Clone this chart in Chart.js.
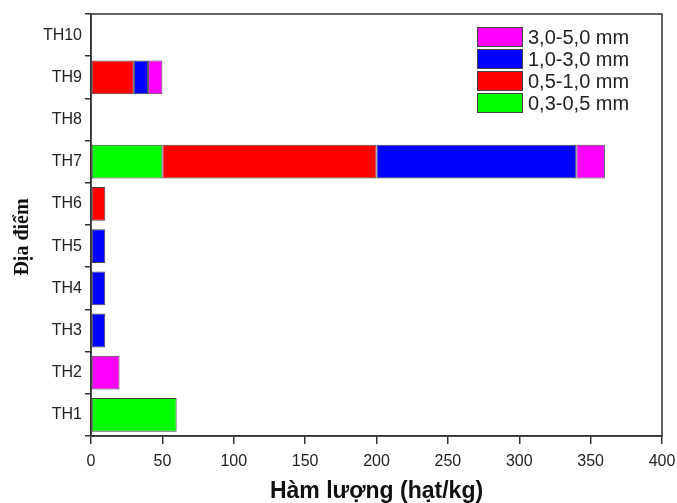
<!DOCTYPE html>
<html>
<head>
<meta charset="utf-8">
<script src="https://cdn.jsdelivr.net/npm/chart.js@4"></script>
<style>
  html, body { margin: 0; padding: 0; background: #fff; }
  #wrap { width: 677px; height: 503px; }
</style>
</head>
<body>
<div id="wrap"><canvas id="chart"></canvas></div>
<script>
// Data
const categories = ["TH1", "TH2", "TH3", "TH4", "TH5", "TH6", "TH7", "TH8", "TH9", "TH10"];
const seriesNames = ["0,3-0,5 mm", "0,5-1,0 mm", "1,0-3,0 mm", "3,0-5,0 mm"];
const size03to05 = [60, null, null, null, null, null, 50, null, null, null];
const size05to10 = [null, null, null, null, null, 10, 150, null, 30, null];
const size10to30 = [null, null, 10, 10, 10, null, 140, null, 10, null];
const size30to50 = [null, 20, null, null, null, null, 20, null, 10, null];
const xTicks = [0, 50, 100, 150, 200, 250, 300, 350, 400];
const yTitle = "Địa điểm";

const colors = ["#00FF00", "#FF0000", "#0000FF", "#FF00FF"];
const axisColor = "#333333";

Chart.defaults.font.family = "'Liberation Sans', Arial, sans-serif";
Chart.defaults.color = "#222222";

// frame around the plot, legend inside top-right, rotated y title
const framePlugin = {
    id: "frame",
    afterDraw(chart) {
        const { ctx, chartArea } = chart;
        ctx.save();
        ctx.strokeStyle = axisColor;
        ctx.lineWidth = 1.5;
        ctx.strokeRect(chartArea.left, chartArea.top, chartArea.right - chartArea.left, chartArea.bottom - chartArea.top);

        const sets = chart.data.datasets.slice().reverse();
        ctx.font = "20px 'Liberation Sans', Arial, sans-serif";
        ctx.textBaseline = "middle";
        ctx.textAlign = "left";
        sets.forEach((ds, i) => {
            const y = 27 + i * 22;
            ctx.fillStyle = ds.backgroundColor;
            ctx.fillRect(477, y, 46, 20);
            ctx.strokeStyle = "#444";
            ctx.lineWidth = 1;
            ctx.strokeRect(477.5, y + 0.5, 45, 19);
            ctx.fillStyle = "#222";
            ctx.fillText(ds.label, 528, y + 11);
        });

        // y axis title, sits a bit below the middle in the reference
        ctx.translate(23, 237);
        ctx.rotate(-Math.PI / 2);
        ctx.textAlign = "center";
        ctx.font = "bold 20px 'Liberation Serif', 'Times New Roman', serif";
        ctx.fillStyle = "#111";
        ctx.fillText(yTitle, 0, 0);
        ctx.restore();
    }
};

const datasets = [size03to05, size05to10, size10to30, size30to50].map((vals, i) => ({
    label: seriesNames[i],
    data: vals,
    backgroundColor: colors[i],
    borderColor: "#444444",
    borderWidth: 1,
    borderSkipped: false,
    barPercentage: 0.8,
    categoryPercentage: 1
}));

new Chart(document.getElementById("chart"), {
    type: "bar",
    data: { labels: categories, datasets: datasets },
    plugins: [framePlugin],
    options: {
        indexAxis: "y",
        responsive: true,
        maintainAspectRatio: false,
        animation: false,
        layout: { padding: { top: 14, right: 15, left: 0, bottom: 0 } },
        plugins: {
            legend: { display: false },
            tooltip: { enabled: false }
        },
        scales: {
            x: {
                stacked: true,
                min: 0,
                max: 400,
                afterBuildTicks: axis => { axis.ticks = xTicks.map(v => ({ value: v })); },
                grid: { drawOnChartArea: false, tickLength: 8, color: axisColor, lineWidth: 1.5 },
                border: { color: axisColor, width: 1.5 },
                ticks: { font: { size: 16 }, color: "#222", padding: 8, maxRotation: 0 },
                title: {
                    display: true,
                    text: "Hàm lượng (hạt/kg)",
                    font: { size: 23, weight: "bold", lineHeight: 1.0 },
                    color: "#111",
                    padding: { top: 0, bottom: 0 }
                },
                afterFit: axis => {
                    axis.height = 67;
                    axis.paddingLeft = 0;
                    axis.paddingRight = 0;
                }
            },
            y: {
                stacked: true,
                reverse: true,
                grid: { drawOnChartArea: false, offset: true, tickLength: 6, color: axisColor, lineWidth: 1.5 },
                border: { color: axisColor, width: 1.5 },
                ticks: { font: { size: 16 }, color: "#222", padding: 3 },
                afterFit: axis => { axis.width = 91; }
            }
        }
    }
});
</script>
</body>
</html>
